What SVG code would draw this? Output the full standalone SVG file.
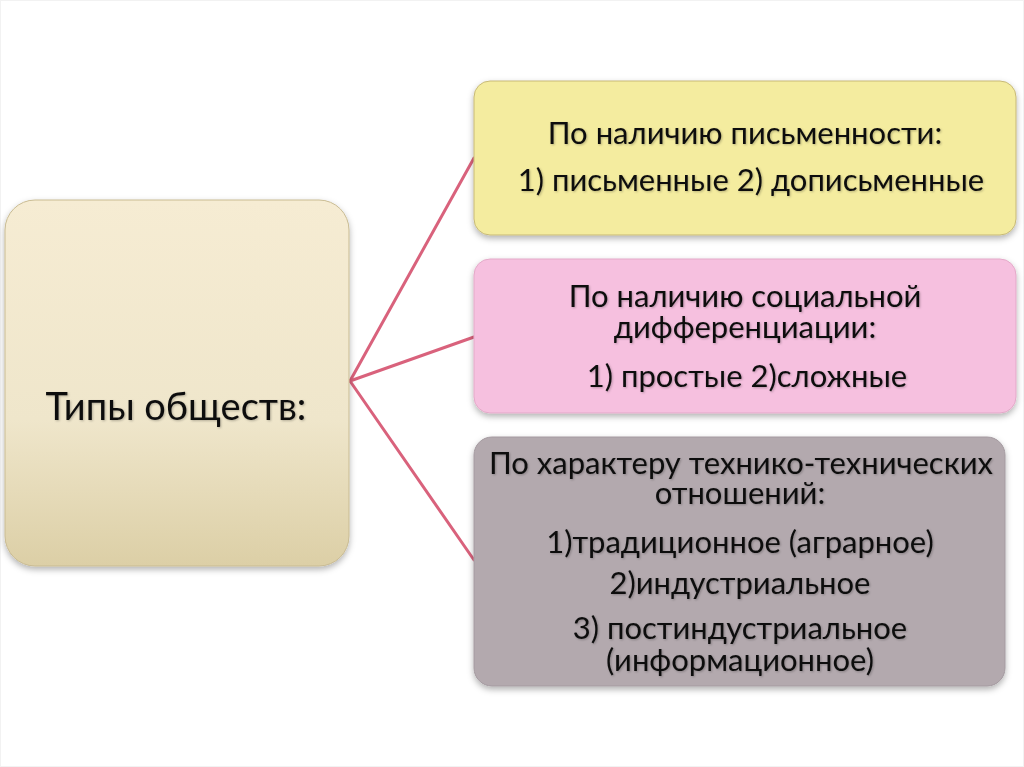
<svg xmlns="http://www.w3.org/2000/svg" width="1024" height="767" viewBox="0 0 1024 767">
<defs>
<linearGradient id="gLeft" x1="0" y1="0" x2="0" y2="1">
<stop offset="0" stop-color="#f6ecd3"/>
<stop offset="0.6" stop-color="#efe6cb"/>
<stop offset="1" stop-color="#dccfa6"/>
</linearGradient>
<filter id="sh" x="-10%" y="-10%" width="120%" height="125%">
<feDropShadow dx="0" dy="3" stdDeviation="3" flood-color="#000" flood-opacity="0.3"/>
</filter>
<filter id="tsh" x="-5%" y="-20%" width="110%" height="150%">
<feDropShadow dx="1" dy="1" stdDeviation="0.8" flood-color="#000" flood-opacity="0.25"/>
</filter>
</defs>
<style>
.t{font-family:Lato,"Liberation Sans",sans-serif;fill:#111111;text-anchor:middle;font-size:31px;}
.box{filter:url(#sh);}
.conn{stroke:#d9627c;stroke-width:3;fill:none;stroke-linecap:round;}
</style>
<rect x="0" y="0" width="1024" height="767" fill="#ffffff"/>
<rect x="0.5" y="0.5" width="1023" height="766" fill="none" stroke="#f2f2f2"/>
<g id="connectors">
<line class="conn" x1="350" y1="381" x2="474" y2="158"/>
<line class="conn" x1="350" y1="381" x2="474" y2="337"/>
<line class="conn" x1="350" y1="381" x2="474" y2="560"/>
</g>
<g id="node-root">
<rect class="box" x="5" y="200" width="344" height="366" rx="30" fill="url(#gLeft)" stroke="#c9bb92" stroke-width="1"/>
<text class="t" x="176" y="420" style="font-size:38px" filter="url(#tsh)">Типы обществ:</text>
</g>
<g id="node-writing">
<rect class="box" x="474" y="81" width="542" height="154" rx="16" fill="#f4ec9f" stroke="#c7b977" stroke-width="1"/>
<g filter="url(#tsh)">
<text class="t" x="745" y="144">По наличию письменности:</text>
<text class="t" x="751" y="191">1) письменные 2) дописьменные</text>
</g>
</g>
<g id="node-social">
<rect class="box" x="474" y="259" width="542" height="154" rx="16" fill="#f6c0df" stroke="#e3a9c8" stroke-width="1"/>
<g filter="url(#tsh)">
<text class="t" x="745" y="307">По наличию социальной</text>
<text class="t" x="745" y="338">дифференциации:</text>
<text class="t" x="747" y="387">1) простые 2)сложные</text>
</g>
</g>
<g id="node-tech">
<rect class="box" x="474" y="437" width="531" height="249" rx="18" fill="#b3a9ae" stroke="#a49aa0" stroke-width="1"/>
<g filter="url(#tsh)">
<text class="t" x="741" y="474">По характеру технико-технических</text>
<text class="t" x="740" y="504">отношений:</text>
<text class="t" x="740" y="553">1)традиционное (аграрное)</text>
<text class="t" x="740" y="594">2)индустриальное</text>
<text class="t" x="740" y="639">3) постиндустриальное</text>
<text class="t" x="740" y="671">(информационное)</text>
</g>
</g>
</svg>
